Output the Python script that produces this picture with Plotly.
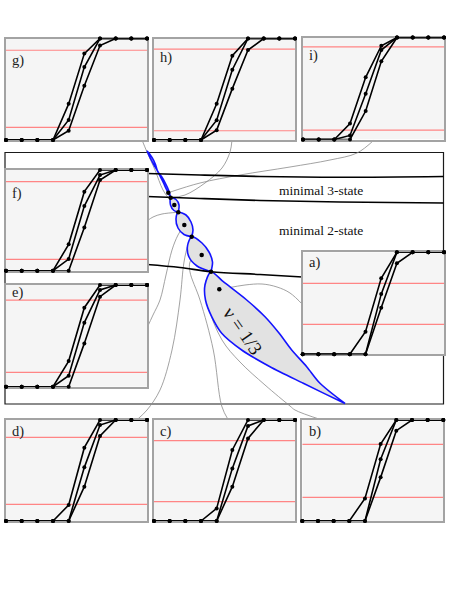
import plotly.graph_objects as go

W, H = 463, 599

# ---------------- data: inset panels (step profiles, x = site index 0..9) ----------------
idx = list(range(10))
panels = ["a", "b", "c", "d", "e", "f", "g", "h", "i"]

curve_a = {
    "a": [0, 0, 0, 0, 0.222, 0.745, 1, 1, 1, 1],
    "b": [0, 0, 0, 0, 0.224, 0.762, 1, 1, 1, 1],
    "c": [0, 0, 0, 0, 0.125, 0.703, 1, 1, 1, 1],
    "d": [0, 0, 0, 0, 0.158, 0.726, 1, 1, 1, 1],
    "e": [0, 0, 0, 0, 0.252, 0.777, 1, 1, 1, 1],
    "f": [0, 0, 0, 0, 0.262, 0.785, 1, 1, 1, 1],
    "g": [0, 0, 0, 0, 0.356, 0.851, 1, 1, 1, 1],
    "h": [0, 0, 0, 0, 0.357, 0.831, 1, 1, 1, 1],
    "i": [0, 0, 0, 0.156, 0.610, 0.919, 1, 1, 1, 1],
}
curve_b = {
    "a": [0, 0, 0, 0, 0, 0.590, 1, 1, 1, 1],
    "b": [0, 0, 0, 0, 0, 0.611, 1, 1, 1, 1],
    "c": [0, 0, 0, 0, 0, 0.521, 0.941, 1, 1, 1],
    "d": [0, 0, 0, 0, 0, 0.531, 0.950, 1, 1, 1],
    "e": [0, 0, 0, 0, 0.108, 0.630, 0.951, 1, 1, 1],
    "f": [0, 0, 0, 0, 0.116, 0.642, 0.950, 1, 1, 1],
    "g": [0, 0, 0, 0, 0.198, 0.719, 1, 1, 1, 1],
    "h": [0, 0, 0, 0, 0.195, 0.692, 1, 1, 1, 1],
    "i": [0, 0, 0, 0.040, 0.448, 0.877, 1, 1, 1, 1],
}
curve_c = {
    "a": [0, 0, 0, 0, 0, 0.457, 0.892, 1, 1, 1],
    "b": [0, 0, 0, 0, 0, 0.432, 0.894, 1, 1, 1],
    "c": [0, 0, 0, 0, 0, 0.340, 0.818, 1, 1, 1],
    "d": [0, 0, 0, 0, 0, 0.340, 0.842, 1, 1, 1],
    "e": [0, 0, 0, 0, 0, 0.426, 0.885, 1, 1, 1],
    "f": [0, 0, 0, 0, 0, 0.430, 0.900, 1, 1, 1],
    "g": [0, 0, 0, 0, 0.092, 0.535, 0.931, 1, 1, 1],
    "h": [0, 0, 0, 0, 0.097, 0.506, 0.886, 1, 1, 1],
    "i": [0, 0, 0, 0, 0.279, 0.766, 1, 1, 1, 1],
}
red_levels = {
    "a": [0.696, 0.294],
    "b": [0.759, 0.234],
    "c": [0.795, 0.191],
    "d": [0.828, 0.165],
    "e": [0.852, 0.141],
    "f": [0.884, 0.113],
    "g": [0.884, 0.125],
    "h": [0.896, 0.091],
    "i": [0.909, 0.091],
}

# ---------------- data: main diagram (page pixel units) ----------------
boundary1_x = [147, 200, 260, 340, 443.5]
boundary1_y = [173.5, 175, 176.5, 177.3, 176.5]
boundary2_x = [147, 200, 260, 340, 443.5]
boundary2_y = [196.5, 198.5, 200.5, 202, 203]
boundary3_x = [147, 180, 211, 260, 302.5]
boundary3_y = [264.5, 267.5, 271.7, 274.5, 277]

# lobes: (left boundary, right boundary) point lists
lobe_tail_l_x = [147, 150.5, 154, 157.5, 160.5, 163.5, 166.5, 170.7]
lobe_tail_l_y = [151, 158.5, 165, 171, 177, 183, 189.5, 197.7]
lobe_tail_r_x = [147, 152, 155.5, 157.5, 161.5, 165, 168.5, 170.7]
lobe_tail_r_y = [151, 157.5, 164.5, 171, 176.5, 182.5, 190, 197.7]
lobe1_l_x = [170.7, 170.5, 174, 178.3]
lobe1_l_y = [197.7, 205, 210.5, 212.3]
lobe1_r_x = [170.7, 176, 179, 178.3]
lobe1_r_y = [197.7, 199.5, 205, 212.3]
lobe2_l_x = [178.3, 176, 178, 184, 191.7]
lobe2_l_y = [212.3, 219, 228, 234.5, 236.7]
lobe2_r_x = [178.3, 186, 191, 193, 191.7]
lobe2_r_y = [212.3, 215, 222, 230, 236.7]
lobe3_l_x = [191.7, 187.5, 189, 197, 211]
lobe3_l_y = [236.7, 246, 257, 266, 271.7]
lobe3_r_x = [191.7, 202, 209, 212.5, 211]
lobe3_r_y = [236.7, 243, 252, 262, 271.7]
lobe4_l_x = [211, 205, 205.5, 211.7, 221.7, 241.7, 270, 303.3, 345]
lobe4_l_y = [271.7, 285, 300, 316.7, 333.3, 350, 366.7, 383.3, 403.5]
lobe4_r_x = [211, 223.3, 246.7, 265, 279, 291.7, 306.7, 320, 345]
lobe4_r_y = [271.7, 281.7, 300, 316.7, 333, 350, 366.7, 383.3, 403.5]

state_dots_x = [168.3, 170.7, 174.3, 178.3, 184.3, 191.7, 201.7, 211, 219.3]
state_dots_y = [192.7, 197.7, 205, 212.3, 225, 236.7, 255, 271.7, 289.3]

leaders = {
    "a": ([303, 290, 277, 262, 245, 230, 219.3], [305, 293, 287, 284, 285, 287.5, 289.3]),
    "b": ([322, 295, 290, 265, 240, 222, 208, 205, 211], [420, 410, 406, 385, 362, 340, 306, 285, 271.7]),
    "c": ([228.3, 221.7, 213.3, 200, 190, 190, 195, 201.7], [420, 406, 350, 300, 272, 262, 256, 255]),
    "d": ([136.7, 147, 160, 172, 180, 184, 188, 191.7], [420, 410, 390, 350, 300, 262, 245, 236.7]),
    "e": ([147, 153, 160, 166, 172, 178, 184.3], [328, 315, 300, 275, 250, 235, 225]),
    "f": ([147, 153, 162, 178.3], [221, 217, 214, 212.3]),
    "g": ([142, 147, 155, 163, 170, 174.3], [140, 152, 170, 190, 200, 205]),
    "h": ([232, 230, 222, 205, 185, 170.7], [140, 152, 168, 183, 195, 197.7]),
    "i": ([374, 357, 330, 290, 240, 200, 168.3], [140, 153, 160, 167, 175, 183, 192.7]),
}
axis_line_x = [211, 219.3, 229]
axis_line_y = [271.7, 289.3, 305]

# ---------------- layout geometry (pixels) ----------------
frames = {
    "g": (6, 147, 38.5, 140), "h": (154, 295, 38.5, 140), "i": (303, 444, 37.5, 139.5),
    "f": (6, 147, 170, 270.7), "e": (6, 147, 285, 386.7), "a": (302.7, 444, 252.3, 354.3),
    "d": (6, 147, 420, 521), "c": (154, 295, 420, 521), "b": (302.3, 443.3, 420, 521),
}
label_offset = {"g": 22, "h": 19, "i": 18, "f": 24, "e": 7, "a": 10, "b": 11, "c": 11, "d": 11}

BLUE = "#1414ff"
LOBE_FILL = "#e2e2e2"
GRAY = "#8a8a8a"
SERIF = "Liberation Serif, Times New Roman, serif"

fig = go.Figure()

# main diagram traces (axis x/y = full page)
for p, (lx, ly) in leaders.items():
    fig.add_trace(go.Scatter(x=lx, y=ly, mode="lines", line=dict(color=GRAY, width=0.8, shape="spline"),
                             hoverinfo="skip", showlegend=False))
fig.add_trace(go.Scatter(x=axis_line_x, y=axis_line_y, mode="lines", line=dict(color=GRAY, width=0.8),
                         hoverinfo="skip", showlegend=False))

lobes = [
    (lobe_tail_l_x, lobe_tail_l_y, lobe_tail_r_x, lobe_tail_r_y),
    (lobe1_l_x, lobe1_l_y, lobe1_r_x, lobe1_r_y),
    (lobe2_l_x, lobe2_l_y, lobe2_r_x, lobe2_r_y),
    (lobe3_l_x, lobe3_l_y, lobe3_r_x, lobe3_r_y),
    (lobe4_l_x, lobe4_l_y, lobe4_r_x, lobe4_r_y),
]
for lx, ly, rx, ry in lobes:
    fig.add_trace(go.Scatter(x=lx + rx[::-1], y=ly + ry[::-1], mode="lines", fill="toself",
                             fillcolor=LOBE_FILL, line=dict(color=BLUE, width=1.6, shape="spline", smoothing=0.8),
                             hoverinfo="skip", showlegend=False))

for bx, by in [(boundary1_x, boundary1_y), (boundary2_x, boundary2_y), (boundary3_x, boundary3_y)]:
    fig.add_trace(go.Scatter(x=bx, y=by, mode="lines", line=dict(color="black", width=1.6, shape="spline"),
                             hoverinfo="skip", showlegend=False))

fig.add_trace(go.Scatter(x=state_dots_x, y=state_dots_y, mode="markers",
                         marker=dict(color="black", size=4.5), hoverinfo="skip", showlegend=False))

fig.update_layout(
    xaxis=dict(domain=[0, 1], range=[0, W], visible=False, fixedrange=True),
    yaxis=dict(domain=[0, 1], range=[H, 0], visible=False, fixedrange=True),
)

shapes = [dict(type="rect", xref="x", yref="y", x0=5, x1=443.5, y0=152.5, y1=404,
               line=dict(color="#1a1a1a", width=1.2), fillcolor="rgba(0,0,0,0)", layer="below")]
annotations = [
    dict(x=321, y=190.5, xref="x", yref="y", text="minimal 3-state", showarrow=False,
         font=dict(family=SERIF, size=13.5, color="#111")),
    dict(x=321, y=230, xref="x", yref="y", text="minimal 2-state", showarrow=False,
         font=dict(family=SERIF, size=13.5, color="#111")),
    dict(x=243, y=330, xref="x", yref="y", text="ν = 1/3", showarrow=False, textangle=55,
         font=dict(family=SERIF, size=19, color="#111")),
]

# inset panels
for k, p in enumerate(panels):
    n = k + 2
    xa, ya = f"xaxis{n}", f"yaxis{n}"
    xr, yr = f"x{n}", f"y{n}"
    x0, x1, y0, y1 = frames[p]
    fig.update_layout({
        xa: dict(domain=[x0 / W, x1 / W], range=[0, 9], anchor=yr, showline=True, mirror=True,
                 linecolor="#a3a3a3", linewidth=1.5, showticklabels=False, ticks="", showgrid=False,
                 zeroline=False, layer="below traces", fixedrange=True),
        ya: dict(domain=[1 - y1 / H, 1 - y0 / H], range=[0, 1], anchor=xr, showline=True, mirror=True,
                 linecolor="#a3a3a3", linewidth=1.5, showticklabels=False, ticks="", showgrid=False,
                 zeroline=False, layer="below traces", fixedrange=True),
    })
    shapes.append(dict(type="rect", xref=xr, yref=yr, x0=0, x1=9, y0=0, y1=1,
                       fillcolor="#f5f5f5", line=dict(width=0), layer="below"))
    for lv in red_levels[p]:
        fig.add_trace(go.Scatter(x=[0, 9], y=[lv, lv], xaxis=xr, yaxis=yr, mode="lines",
                                 line=dict(color="#ff8585", width=1.2), hoverinfo="skip", showlegend=False))
    for cv in (curve_c[p], curve_b[p], curve_a[p]):
        fig.add_trace(go.Scatter(x=idx, y=cv, xaxis=xr, yaxis=yr, mode="lines+markers",
                                 line=dict(color="black", width=1.6), marker=dict(color="black", size=4),
                                 cliponaxis=False, hoverinfo="skip", showlegend=False))
    annotations.append(dict(x=0.03, y=1 - label_offset[p] / (y1 - y0), xref=f"{xr} domain", yref=f"{yr} domain",
                            text=f"{p})", showarrow=False, xanchor="left", yanchor="middle",
                            font=dict(family=SERIF, size=14.5, color="#222")))

fig.update_layout(
    width=W, height=H, margin=dict(l=0, r=0, t=0, b=0),
    paper_bgcolor="white", plot_bgcolor="white",
    shapes=shapes, annotations=annotations, showlegend=False,
)

fig.write_html("out.html", config={"displayModeBar": False},
               post_script="document.body.style.margin='0px';")
